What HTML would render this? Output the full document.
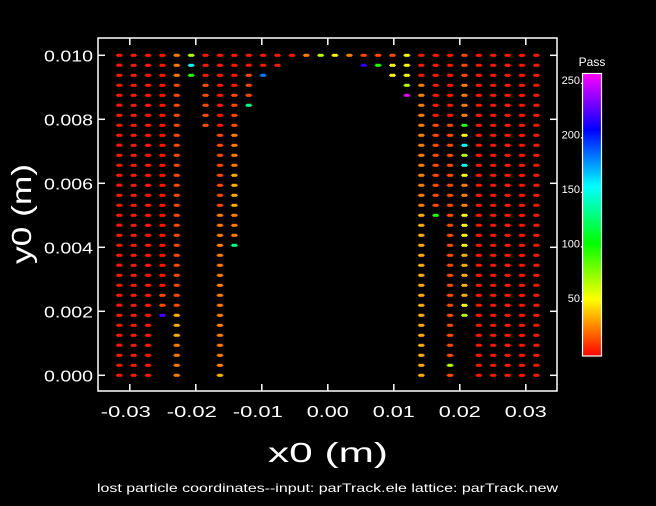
<!DOCTYPE html>
<html><head><meta charset="utf-8"><style>
html,body{margin:0;padding:0;background:#000;}
svg{display:block;font-family:"Liberation Sans",sans-serif;}
</style></head><body>
<svg id="chart" width="656" height="506" viewBox="0 0 656 506">
<rect width="656" height="506" fill="#000"/>
<g id="frame"></g>
<g id="points"></g>
<g id="cbar"></g>
<text x="268" y="462" fill="#fff" font-size="28" textLength="120" lengthAdjust="spacingAndGlyphs">x0  (m)</text>
<text transform="translate(31,264) rotate(-90)" fill="#fff" font-size="28" textLength="100" lengthAdjust="spacingAndGlyphs">y0  (m)</text>
<text x="97" y="492" fill="#fff" font-size="12" textLength="461" lengthAdjust="spacingAndGlyphs">lost particle coordinates--input: parTrack.ele   lattice: parTrack.new</text>
<text x="592" y="66" fill="#fff" font-size="12" text-anchor="middle">Pass</text>
</svg>
<script>
const xValues = [-0.0316,-0.02942,-0.02724,-0.02506,-0.02288,-0.0207,-0.01852,-0.01634,-0.01416,-0.01198,-0.0098,-0.00762,-0.00544,-0.00326,-0.00108,0.00108,0.00326,0.00544,0.00762,0.0098,0.01198,0.01416,0.01634,0.01852,0.0207,0.02288,0.02506,0.02724,0.02942,0.0316];
const yValues = [0.01,0.0096875,0.009375,0.0090625,0.00875,0.0084375,0.008125,0.0078125,0.0075,0.0071875,0.006875,0.0065625,0.00625,0.0059375,0.005625,0.0053125,0.005,0.0046875,0.004375,0.0040625,0.00375,0.0034375,0.003125,0.0028125,0.0025,0.0021875,0.001875,0.0015625,0.00125,0.0009375,0.000625,0.0003125,0];
const passCodes = {r:5,o:15,O:25,a:35,y:50,l:65,g:95,s:130,c:150,b:180,B:215,v:220,m:250};
// each column: rows listed top (y=0.010) to bottom (y=0); '.' = no particle
const columnPasses = [
"rrrrrrrrrr"+"rrrrrrrrrr"+"rrrrrrrrrr"+"rrr",
"rrrrrrrrrr"+"rrrrrrrrrr"+"rrrrrrrrrr"+"rrr",
"rrrrrrrrrr"+"rrrrrrrrrr"+"rrrrrrrrrr"+"rrr",
"rrrrrrrrrr"+"rrrrrrrrrr"+"rrrroov..."+"...",
"OOOooooooo"+"oooooooooo"+"ooooooaaaO"+"OOO",
"lcg......."+".........."+".........."+"...",
"rrrooooo.."+".........."+".........."+"...",
"rrrrrrrroo"+"ooooooOOOO"+"OOOOOOOOOO"+"OOa",
"rrrrooooOO"+"OOaaaaOOOs"+".........."+"...",
"rrooos...."+".........."+".........."+"...",
"rrb......."+".........."+".........."+"...",
"rr........"+".........."+".........."+"...",
"r........."+".........."+".........."+"...",
"O........."+".........."+".........."+"...",
"l........."+".........."+".........."+"...",
"y........."+".........."+".........."+"...",
"O........."+".........."+".........."+"...",
"oB........"+".........."+".........."+"...",
"og........"+".........."+".........."+"...",
"oyy......."+".........."+".........."+"...",
"yyylm....."+".........."+".........."+"...",
"rrrOOOOOOO"+"OOOOOOaaaa"+"aaaaaaaaaa"+"aaa",
"rrrrrrrooo"+"oooooog..."+".........."+"...",
"rrrrrrrooo"+"oooooooooo"+"oooooooooo"+"olo",
"oooOOOOgyc"+"lcyOOOyyyy"+"aaaaayl..."+"...",
"rrrrrrrrrr"+"rrrrrrrrrr"+"rrrrrrrrrr"+"rrr",
"rrrrrrrrrr"+"rrrrrrrrrr"+"rrrrrrrrrr"+"rrr",
"rrrrrrrrrr"+"rrrrrrrrrr"+"rrrrrrrrrr"+"rrr",
"rrrrrrrrrr"+"rrrrrrrrrr"+"rrrrrrrrrr"+"rrr",
"rrrrrrrrrr"+"rrrrrrrrrr"+"rrrrrrrrrr"+"rrr"
];
const xTicks = [-0.03,-0.02,-0.01,0,0.01,0.02,0.03];
const xTickLabels = ["-0.03","-0.02","-0.01","0.00","0.01","0.02","0.03"];
const yTicks = [0,0.002,0.004,0.006,0.008,0.010];
const yTickLabels = ["0.000","0.002","0.004","0.006","0.008","0.010"];
const cbTicks = [50,100,150,200,250];
const cbTickLabels = ["50.","100.","150.","200.","250."];

const NS="http://www.w3.org/2000/svg";
const L=98,R=557,T=38,B=391;
const sx=v=>327.8+v*6600;
const sy=v=>375.3-v*32000;
const sc=v=>298-(v-50)*1.09;
const color=v=>`hsl(${Math.max(0,Math.min(300,v/256*300))},100%,50%)`;
function mk(tag,parent,attrs){const e=document.createElementNS(NS,tag);for(const k in attrs)e.setAttribute(k,attrs[k]);parent.appendChild(e);return e;}

const frame=document.getElementById('frame');
const box=mk('rect',frame,{x:L,y:T,width:R-L,height:B-T,fill:'none',stroke:'#fff','stroke-width':1.5});


xTicks.forEach((t,i)=>{
  const x=sx(t);
  const a=mk('line',frame,{x1:x,x2:x,y1:B,y2:B-7,stroke:'#fff','stroke-width':1.5});
  
  
  const b=mk('line',frame,{x1:x,x2:x,y1:T,y2:T+7,stroke:'#fff','stroke-width':1.5});
  
  
  const w=xTickLabels[i].startsWith('-')?50:42;
  const tx=mk('text',frame,{x:x+(xTickLabels[i].startsWith('-')?-4:0),y:417,fill:'#fff','font-size':16,'text-anchor':'middle',textLength:w,lengthAdjust:'spacingAndGlyphs'});
  tx.textContent=xTickLabels[i];
  
  
});
yTicks.forEach((t,i)=>{
  const y=sy(t);
  const a=mk('line',frame,{x1:L,x2:L+7,y1:y,y2:y,stroke:'#fff','stroke-width':1.5});
  
  
  const b=mk('line',frame,{x1:R,x2:R-7,y1:y,y2:y,stroke:'#fff','stroke-width':1.5});
  
  
  const tx=mk('text',frame,{x:44,y:y+6,fill:'#fff','font-size':16,textLength:49,lengthAdjust:'spacingAndGlyphs'});
  tx.textContent=yTickLabels[i];
  
  
});

const pts=document.getElementById('points');
columnPasses.forEach((col,ci)=>{
  for(let ri=0;ri<yValues.length;ri++){
    const c=col[ri];
    if(!c||!(c in passCodes))continue;
    const x=sx(xValues[ci]),y=sy(yValues[ri]);const f=color(passCodes[c]);
    const g=mk('g',pts,{fill:f});
    
    
    mk('rect',g,{x:x-2.5,y:y-1.5,width:5,height:3});
    mk('rect',g,{x:x-3.5,y:y-0.5,width:7,height:1});
  }
});

const cb=document.getElementById('cbar');
const defs=mk('defs',cb,{});
const grad=mk('linearGradient',defs,{id:'cg',x1:0,y1:1,x2:0,y2:0});
for(let i=0;i<=10;i++){mk('stop',grad,{offset:i/10,'stop-color':color(i/10*256)});}
const cr=mk('rect',cb,{x:582.5,y:73.5,width:19,height:282.5,fill:'url(#cg)',stroke:'#fff','stroke-width':1.2});


cbTicks.forEach((t,i)=>{
  const tx=mk('text',cb,{x:583,y:sc(t)+4,fill:'#fff','font-size':11,'text-anchor':'end'});
  tx.textContent=cbTickLabels[i];
  
  
});
</script>
</body></html>
